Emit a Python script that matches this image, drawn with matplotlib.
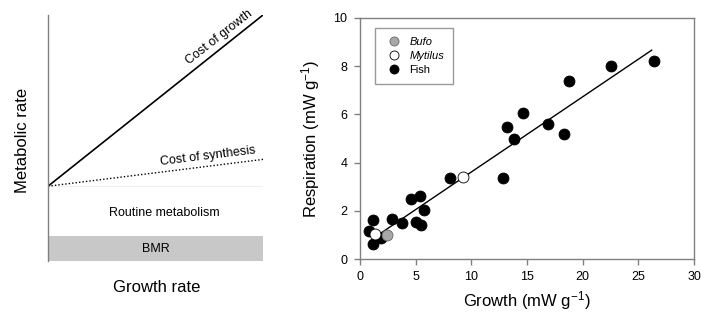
import matplotlib
matplotlib.use("Agg")
import matplotlib.pyplot as plt
from matplotlib.patches import Rectangle
from matplotlib.lines import Line2D

plt.rcParams['font.family'] = ['Liberation Sans', 'DejaVu Sans']
plt.rcParams['mathtext.default'] = 'regular'

# ---- Right panel data ----
fish_x = [0.8, 1.2, 1.2, 1.9, 2.9, 3.8, 4.6, 5.0, 5.5, 5.4, 5.75, 8.1,
          12.8, 13.2, 13.8, 14.6, 16.9, 18.3, 18.8, 22.5, 26.4]
fish_y = [1.16, 1.62, 0.62, 0.87, 1.66, 1.49, 2.5, 1.53, 1.4, 2.6, 2.03, 3.36,
          3.36, 5.48, 4.98, 6.06, 5.6, 5.2, 7.4, 8.0, 8.2]
bufo_x = [2.4]
bufo_y = [1.0]
mytilus_x = [1.35, 9.25]
mytilus_y = [1.05, 3.42]
fit_slope = 0.312
fit_intercept = 0.49
fit_x_range = [1.3, 26.2]

x_ticks = [0, 5, 10, 15, 20, 25, 30]
y_ticks = [0, 2, 4, 6, 8, 10]

# ---- Left panel (schematic) levels ----
bmr_level = 0.1
routine_level = 0.304
synthesis_end = 0.413
growth_end = 1.0

W, H = 702, 315
fig = plt.figure(figsize=(W / 100, H / 100), dpi=100)

# Left schematic panel
axl = fig.add_axes([48 / W, (H - 261) / H, (263 - 48) / W, (261 - 15) / H])
axl.set_xlim(0, 1)
axl.set_ylim(0, 1)
for s in ['top', 'right', 'bottom']:
    axl.spines[s].set_visible(False)
axl.spines['left'].set_color('#808080')
axl.spines['left'].set_linewidth(1.0)
axl.set_xticks([])
axl.set_yticks([])
axl.add_patch(Rectangle((0, 0), 1, bmr_level, facecolor='#c8c8c8', edgecolor='none'))
axl.plot([0, 1], [routine_level, routine_level], color='#f0f0f0', lw=0.8)
axl.plot([0, 1], [routine_level, synthesis_end], color='black', lw=1.0, linestyle=(0, (1, 1.5)))
axl.plot([0, 1], [routine_level, growth_end], color='black', lw=1.2)
axl.text(0.5, bmr_level / 2, 'BMR', ha='center', va='center', fontsize=9)
axl.text(0.54, 0.195, 'Routine metabolism', ha='center', va='center', fontsize=9)
axl.text(0.745, 0.425, 'Cost of synthesis', ha='center', va='center', fontsize=9, rotation=7)
axl.text(0.795, 0.91, 'Cost of growth', ha='center', va='center', fontsize=9, rotation=38)
fig.text(23 / W, 1 - 140 / H, 'Metabolic rate', rotation=90, ha='center', va='center', fontsize=12)
fig.text(157 / W, 1 - 287 / H, 'Growth rate', ha='center', va='center', fontsize=12)

# Right scatter panel
ax = fig.add_axes([360 / W, (H - 259) / H, 334 / W, 241 / H])
ax.set_xlim(0, 30)
ax.set_ylim(0, 10)
ax.set_xticks(x_ticks)
ax.set_yticks(y_ticks)
for s in ax.spines.values():
    s.set_color('#808080')
    s.set_linewidth(1.0)
ax.tick_params(direction='out', length=4, width=1, color='#808080', labelsize=9, pad=5)

fx = fit_x_range
ax.plot(fx, [fit_slope * v + fit_intercept for v in fx], color='black', lw=1.0, zorder=2)
ax.scatter(fish_x, fish_y, s=62, c='black', edgecolors='black', linewidths=0.6, zorder=3)
ax.scatter(bufo_x, bufo_y, s=62, c='#a8a8a8', edgecolors='#666666', linewidths=0.6, zorder=3)
ax.scatter(mytilus_x, mytilus_y, s=62, c='white', edgecolors='black', linewidths=0.6, zorder=4)

ax.set_xlabel('Growth (mW g$^{-1}$)', fontsize=12, labelpad=4)
ax.set_ylabel('Respiration (mW g$^{-1}$)', fontsize=12, labelpad=8)

handles = [
    Line2D([], [], marker='o', linestyle='none', markersize=6.5, markerfacecolor='#a8a8a8', markeredgecolor='#666666', markeredgewidth=0.6),
    Line2D([], [], marker='o', linestyle='none', markersize=6.5, markerfacecolor='white', markeredgecolor='black', markeredgewidth=0.6),
    Line2D([], [], marker='o', linestyle='none', markersize=6.5, markerfacecolor='black', markeredgecolor='black', markeredgewidth=0.6),
]
leg = ax.legend(handles, ['Bufo', 'Mytilus', 'Fish'], loc='upper left',
                bbox_to_anchor=(0.045, 0.958), borderaxespad=0, fontsize=8,
                frameon=True, fancybox=False, edgecolor='#808080',
                handletextpad=0.5, labelspacing=0.35, borderpad=0.8,
                handlelength=1.8)
leg.get_frame().set_linewidth(1.0)
texts = leg.get_texts()
texts[0].set_fontstyle('italic')
texts[1].set_fontstyle('italic')

fig.savefig('out.png', dpi=100)
